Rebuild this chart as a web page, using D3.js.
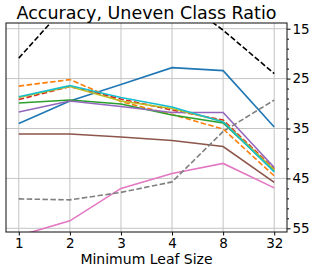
<!DOCTYPE html>
<html>
<head>
<meta charset="utf-8">
<script src="https://cdn.jsdelivr.net/npm/d3@7"></script>
<style>
  body { margin: 0; background: #fff; }
  svg { display: block; font-family: "DejaVu Sans", sans-serif; }
</style>
</head>
<body>
<div id="chart"></div>
<script>
// Data
const leafSizes = ['1', '2', '3', '4', '8', '32'];
const yTicks = [15, 25, 35, 45, 55];

const blueVals   = [34.0, 29.5, 26.2, 22.8, 23.4, 34.7];
const orangeVals = [26.5, 25.2, 29.6, 32.2, 35.1, 44.5];
const greenVals  = [29.9, 29.3, 30.1, 32.3, 33.9, 43.5];
const redVals    = [29.2, 26.6, 29.1, 31.3, 33.3, 43.1];
const purpleVals = [31.7, 29.5, 30.6, 31.8, 31.8, 42.8];
const brownVals  = [36.1, 36.1, 36.7, 37.4, 38.6, 45.8];
const pinkVals   = [56.5, 53.5, 47.0, 44.0, 42.0, 46.9];
const grayVals   = [49.1, 49.3, 47.8, 45.7, 35.6, 29.3];
const oliveVals  = [28.8, 26.6, 29.5, 31.0, 33.6, 43.3];
const cyanVals   = [28.65, 26.4, 28.8, 30.7, 33.7, 43.7];
const blackVals  = [20.9, 9.5, 8.0, 7.7, 15.3, 24.0];

const series = [
    { vals: blueVals,   color: '#1f77b4', dashed: false },
    { vals: orangeVals, color: '#ff7f0e', dashed: true },
    { vals: greenVals,  color: '#2ca02c', dashed: false },
    { vals: redVals,    color: '#d62728', dashed: true },
    { vals: purpleVals, color: '#9467bd', dashed: false },
    { vals: brownVals,  color: '#8c564b', dashed: false },
    { vals: pinkVals,   color: '#e377c2', dashed: false },
    { vals: grayVals,   color: '#7f7f7f', dashed: true },
    { vals: oliveVals,  color: '#bcbd22', dashed: false },
    { vals: cyanVals,   color: '#17becf', dashed: false },
    { vals: blackVals,  color: '#000000', dashed: true }
];

const W = 313, H = 273;
const plotL = 6, plotR = 287, plotT = 23, plotB = 232;

const svg = d3.select('#chart').append('svg')
    .attr('width', W)
    .attr('height', H);

const x = d3.scalePoint()
    .domain(leafSizes)
    .range([plotL, plotR])
    .padding(0.25);

const y = d3.scaleLinear()
    .domain([13.856, 55.74])
    .range([plotT, plotB]);

svg.append('defs').append('clipPath')
    .attr('id', 'plotClip')
    .append('rect')
    .attr('x', plotL).attr('y', plotT)
    .attr('width', plotR - plotL).attr('height', plotB - plotT);

// Grid
const grid = svg.append('g');
grid.selectAll('.vgrid')
    .data(leafSizes)
    .enter().append('line')
    .attr('x1', d => x(d)).attr('x2', d => x(d))
    .attr('y1', plotT).attr('y2', plotB)
    .attr('stroke', '#c4c4c4').attr('stroke-width', 1);
grid.selectAll('.hgrid')
    .data(yTicks)
    .enter().append('line')
    .attr('x1', plotL).attr('x2', plotR)
    .attr('y1', d => y(d)).attr('y2', d => y(d))
    .attr('stroke', '#c4c4c4').attr('stroke-width', 1);

// Lines
const line = d3.line()
    .x((d, i) => x(leafSizes[i]))
    .y(d => y(d));

const lines = svg.append('g').attr('clip-path', 'url(#plotClip)');
series.forEach(s => {
    lines.append('path')
        .datum(s.vals)
        .attr('d', line)
        .attr('fill', 'none')
        .attr('stroke', s.color)
        .attr('stroke-width', 1.6)
        .attr('stroke-dasharray', s.dashed ? '5.5,2.4' : null);
});

// Axes
const xAxis = d3.axisBottom(x).tickSizeOuter(0).tickSizeInner(3.5).tickPadding(3);
svg.append('g')
    .attr('transform', `translate(0,${plotB})`)
    .call(xAxis)
    .call(g => g.select('.domain').remove())
    .call(g => g.selectAll('text').attr('font-size', 13.5).attr('fill', '#000').attr('font-family', 'DejaVu Sans'));

const minorTicks = d3.range(17, 55, 2).filter(v => (v - 15) % 10 !== 0);
svg.append('g')
    .attr('transform', `translate(${plotR},0)`)
    .call(d3.axisRight(y).tickValues(minorTicks).tickSize(2).tickFormat(''))
    .call(g => g.select('.domain').remove());

const yAxis = d3.axisRight(y).tickValues(yTicks).tickSizeOuter(0).tickSizeInner(3.5).tickPadding(2);
svg.append('g')
    .attr('transform', `translate(${plotR},0)`)
    .call(yAxis)
    .call(g => g.select('.domain').remove())
    .call(g => g.selectAll('text').attr('font-size', 13.5).attr('fill', '#000').attr('font-family', 'DejaVu Sans'));

// Frame
svg.append('rect')
    .attr('x', plotL).attr('y', plotT)
    .attr('width', plotR - plotL).attr('height', plotB - plotT)
    .attr('fill', 'none')
    .attr('stroke', '#222')
    .attr('stroke-width', 1.1);

// Title and label
svg.append('text')
    .attr('x', (plotL + plotR) / 2)
    .attr('y', 18.5)
    .attr('text-anchor', 'middle')
    .attr('font-size', 17.5)
    .text('Accuracy, Uneven Class Ratio');

svg.append('text')
    .attr('x', (plotL + plotR) / 2)
    .attr('y', 264)
    .attr('text-anchor', 'middle')
    .attr('font-size', 14)
    .text('Minimum Leaf Size');
</script>
</body>
</html>
